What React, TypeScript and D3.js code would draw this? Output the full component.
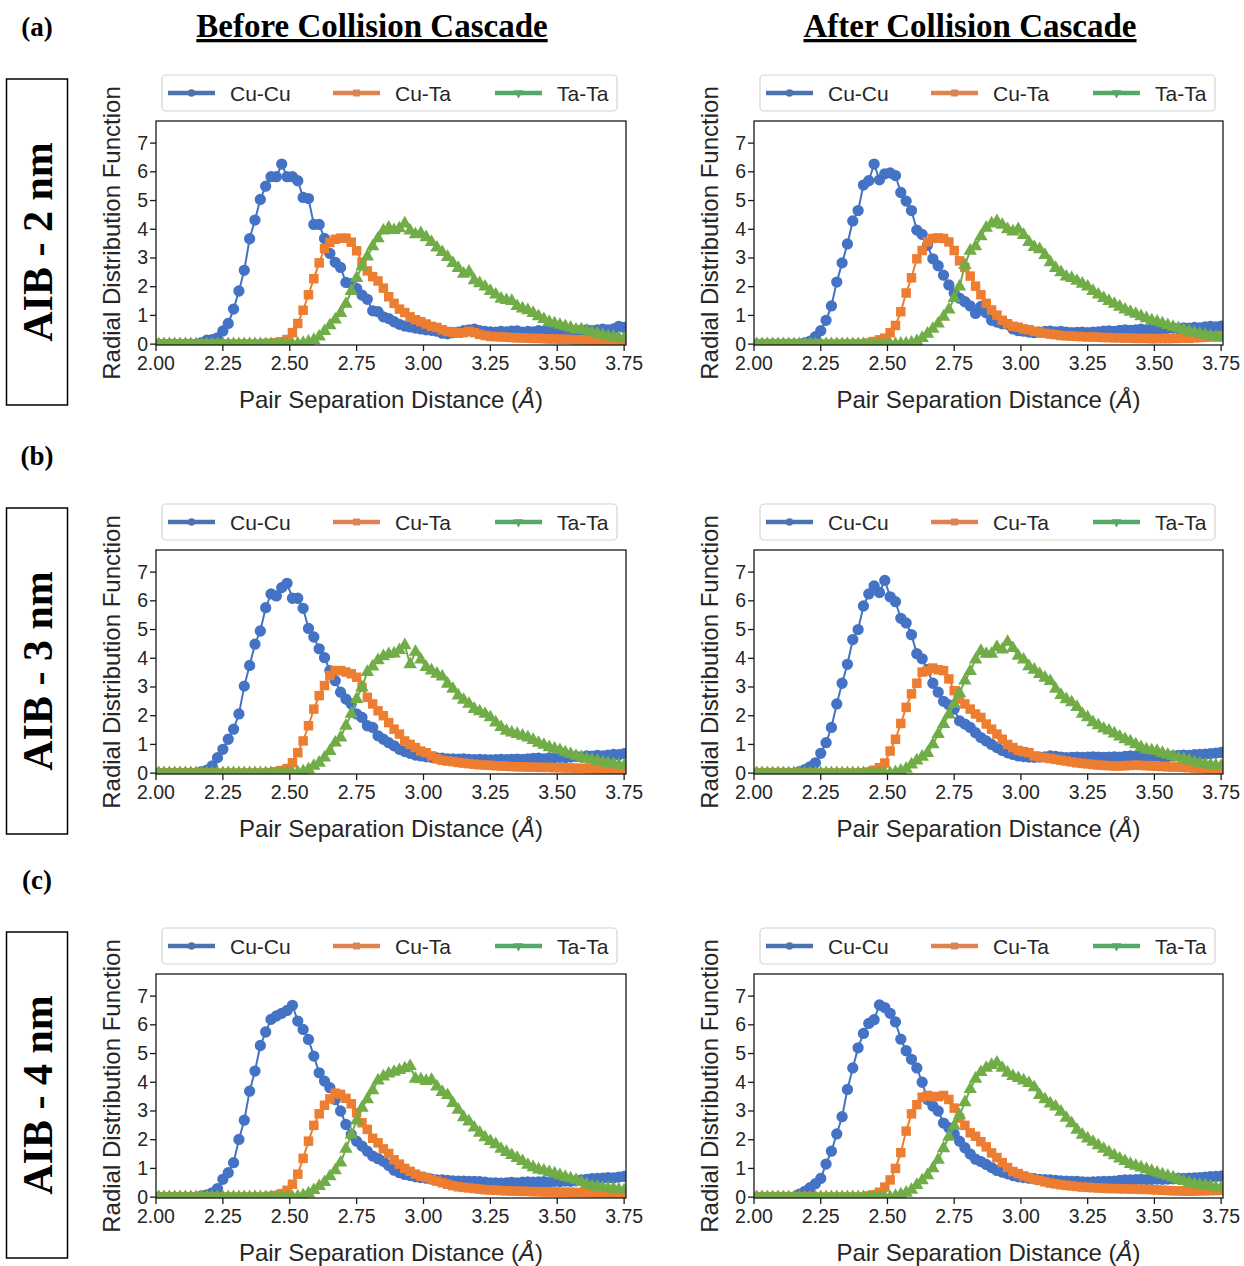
import React from 'react';
import * as d3 from 'd3';

// ---------------- DATA ----------------
// RDF bins: r = 2.01, 2.03, ..., 3.75 Å (88 values per series, 5 per row: 2.0x, 2.1x, ...)
const R_START = 2.01;
const R_STEP = 0.02;

const SERIES_NAMES = ['Cu-Cu', 'Cu-Ta', 'Ta-Ta'];
const X_TICKS = [2.0, 2.25, 2.5, 2.75, 3.0, 3.25, 3.5, 3.75];
const Y_TICKS = [0, 1, 2, 3, 4, 5, 6, 7];
const ROW_LABELS = ['(a)', '(b)', '(c)'];
const SIZE_LABELS = ['AIB - 2 nm', 'AIB - 3 nm', 'AIB - 4 nm'];
const COLUMN_TITLES = ['Before Collision Cascade', 'After Collision Cascade'];

// ---- 2 nm, before ----
const cuCu2Before = [
  0, 0, 0, 0, 0,
  0, 0, 0, 0.05, 0.14,
  0.16, 0.22, 0.46, 0.72, 1.22,
  1.85, 2.57, 3.67, 4.32, 5.04,
  5.5, 5.83, 5.83, 6.27, 5.83,
  5.83, 5.69, 5.11, 5.07, 4.17,
  4.17, 3.68, 3.16, 2.85, 2.67,
  2.15, 2.11, 1.94, 1.71, 1.56,
  1.16, 1.13, 0.95, 0.89, 0.78,
  0.69, 0.63, 0.6, 0.56, 0.53,
  0.5, 0.48, 0.45, 0.38, 0.36,
  0.4, 0.42, 0.47, 0.5, 0.52,
  0.47, 0.44, 0.43, 0.42, 0.44,
  0.43, 0.45, 0.46, 0.42, 0.44,
  0.43, 0.47, 0.45, 0.44, 0.46,
  0.48, 0.47, 0.45, 0.46, 0.49,
  0.5, 0.47, 0.5, 0.52, 0.5,
  0.53, 0.62, 0.58,
];
const cuTa2Before = [
  0, 0, 0, 0, 0,
  0, 0, 0, 0, 0,
  0, 0, 0, 0, 0,
  0, 0, 0, 0, 0,
  0.02, 0.03, 0.05, 0.08, 0.16,
  0.4, 0.72, 1.18, 1.72, 2.28,
  2.83, 3.33, 3.54, 3.65, 3.69,
  3.69, 3.55, 3.25, 2.85, 2.55,
  2.35, 2.2, 1.95, 1.65, 1.42,
  1.22, 1.1, 0.95, 0.85, 0.78,
  0.7, 0.62, 0.58, 0.5, 0.44,
  0.41, 0.38, 0.4, 0.45, 0.4,
  0.34, 0.3, 0.27, 0.26, 0.25,
  0.24, 0.23, 0.22, 0.22, 0.21,
  0.2, 0.2, 0.19, 0.18, 0.18,
  0.17, 0.17, 0.16, 0.15, 0.15,
  0.14, 0.13, 0.13, 0.12, 0.1,
  0.1, 0.09, 0.08,
];
const taTa2Before = [
  0, 0, 0, 0, 0,
  0, 0, 0, 0, 0,
  0, 0, 0, 0, 0,
  0, 0, 0, 0, 0,
  0, 0, 0, 0, 0,
  0, 0.01, 0.04, 0.08, 0.14,
  0.26, 0.45, 0.65, 0.85, 1.08,
  1.4, 1.85, 2.3, 2.7, 3.05,
  3.4, 3.68, 3.95, 4.05, 3.97,
  4.03, 4.2, 3.95, 3.82, 3.86,
  3.72, 3.55, 3.36, 3.2, 3.03,
  2.82, 2.65, 2.45, 2.52, 2.22,
  2.12, 2.0, 1.85, 1.72, 1.58,
  1.53, 1.5, 1.32, 1.24, 1.18,
  1.08, 0.97, 0.87, 0.77, 0.72,
  0.67, 0.62, 0.57, 0.5, 0.51,
  0.47, 0.41, 0.37, 0.32, 0.27,
  0.25, 0.22, 0.2,
];

// ---- 2 nm, after ----
const cuCu2After = [
  0, 0, 0, 0, 0,
  0, 0, 0, 0.01, 0.04,
  0.1, 0.26, 0.47, 0.83, 1.33,
  2.16, 2.83, 3.49, 4.29, 4.65,
  5.54, 5.69, 6.27, 5.72, 5.93,
  5.96, 5.87, 5.28, 4.98, 4.65,
  3.97, 3.82, 3.44, 2.97, 2.73,
  2.4, 2.06, 1.78, 1.6, 1.48,
  1.33, 1.07, 1.31, 1.09, 0.83,
  0.77, 0.71, 0.69, 0.53, 0.47,
  0.45, 0.42, 0.4, 0.42, 0.44,
  0.45, 0.43, 0.44, 0.42, 0.4,
  0.41, 0.42, 0.4, 0.42, 0.43,
  0.45, 0.46, 0.44, 0.48, 0.5,
  0.48, 0.5, 0.52, 0.5, 0.53,
  0.54, 0.52, 0.55, 0.56, 0.54,
  0.57, 0.56, 0.58, 0.57, 0.6,
  0.62, 0.6, 0.63,
];
const cuTa2After = [
  0, 0, 0, 0, 0,
  0, 0, 0, 0, 0,
  0, 0, 0, 0, 0,
  0, 0, 0, 0, 0,
  0.01, 0.04, 0.09, 0.15, 0.21,
  0.4, 0.65, 1.13, 1.78, 2.31,
  2.97, 3.26, 3.56, 3.68, 3.7,
  3.68, 3.56, 3.26, 2.9, 2.67,
  2.37, 2.02, 1.72, 1.42, 1.19,
  1.01, 0.83, 0.71, 0.62, 0.59,
  0.53, 0.5, 0.45, 0.42, 0.38,
  0.35, 0.33, 0.3, 0.29, 0.28,
  0.27, 0.26, 0.25, 0.25, 0.24,
  0.23, 0.23, 0.22, 0.22, 0.21,
  0.21, 0.2, 0.2, 0.2, 0.19,
  0.19, 0.2, 0.19, 0.2, 0.2,
  0.21, 0.2, 0.22, 0.23, 0.24,
  0.25, 0.26, 0.27,
];
const taTa2After = [
  0, 0, 0, 0, 0,
  0, 0, 0, 0, 0,
  0, 0, 0, 0, 0,
  0, 0, 0, 0, 0,
  0, 0, 0, 0, 0,
  0, 0, 0.01, 0.02, 0.05,
  0.1, 0.21, 0.36, 0.53, 0.71,
  0.95, 1.2, 1.6, 2.0, 2.75,
  3.25, 3.4, 3.75, 4.05, 4.2,
  4.28, 4.15, 4.0, 3.92, 4.0,
  3.8, 3.55, 3.38, 3.3, 3.1,
  2.85, 2.65, 2.5, 2.35, 2.3,
  2.2, 2.1, 2.0, 1.85, 1.72,
  1.6, 1.5, 1.4, 1.3, 1.2,
  1.12, 1.05, 0.97, 0.9, 0.82,
  0.78, 0.72, 0.66, 0.6, 0.55,
  0.5, 0.45, 0.4, 0.36, 0.32,
  0.28, 0.25, 0.22,
];

// ---- 3 nm, before ----
const cuCu3Before = [
  0, 0, 0, 0, 0,
  0, 0, 0, 0.05, 0.1,
  0.25, 0.54, 0.83, 1.18, 1.53,
  2.06, 3.03, 3.75, 4.49, 4.95,
  5.76, 6.24, 6.17, 6.46, 6.61,
  6.09, 6.09, 5.74, 5.04, 4.74,
  4.33, 4.02, 3.57, 3.22, 2.82,
  2.58, 2.41, 2.06, 1.94, 1.65,
  1.59, 1.3, 1.18, 1.06, 0.95,
  0.83, 0.75, 0.69, 0.63, 0.6,
  0.57, 0.55, 0.53, 0.52, 0.5,
  0.5, 0.49, 0.5, 0.48, 0.47,
  0.48, 0.47, 0.46, 0.47, 0.48,
  0.47, 0.48, 0.49, 0.48, 0.5,
  0.51, 0.52, 0.5, 0.53, 0.54,
  0.55, 0.54, 0.56, 0.58, 0.57,
  0.6, 0.59, 0.62, 0.6, 0.63,
  0.65, 0.64, 0.68,
];
const cuTa3Before = [
  0, 0, 0, 0, 0,
  0, 0, 0, 0, 0,
  0, 0, 0, 0, 0,
  0, 0, 0, 0, 0,
  0.01, 0.02, 0.05, 0.09, 0.16,
  0.36, 0.71, 1.12, 1.65, 2.23,
  2.7, 3.05, 3.4, 3.57, 3.57,
  3.52, 3.46, 3.34, 2.99, 2.64,
  2.41, 2.17, 2.0, 1.76, 1.53,
  1.36, 1.12, 1.0, 0.89, 0.77,
  0.71, 0.6, 0.5, 0.45, 0.42,
  0.4, 0.37, 0.35, 0.33, 0.31,
  0.29, 0.28, 0.27, 0.26, 0.25,
  0.24, 0.23, 0.22, 0.22, 0.21,
  0.21, 0.2, 0.2, 0.2, 0.19,
  0.19, 0.18, 0.18, 0.17, 0.17,
  0.16, 0.16, 0.15, 0.15, 0.14,
  0.14, 0.13, 0.13,
];
const taTa3Before = [
  0, 0, 0, 0, 0,
  0, 0, 0, 0, 0,
  0, 0, 0, 0, 0,
  0, 0, 0, 0, 0,
  0, 0, 0, 0, 0,
  0, 0.02, 0.06, 0.13, 0.25,
  0.36, 0.54, 0.77, 1.06, 1.24,
  1.65, 2.06, 2.58, 2.99, 3.52,
  3.71, 3.93, 4.07, 4.14, 4.16,
  4.28, 4.45, 3.79, 4.22, 3.95,
  3.69, 3.57, 3.46, 3.36, 3.11,
  2.93, 2.7, 2.55, 2.41, 2.23,
  2.15, 2.06, 1.94, 1.76, 1.6,
  1.47, 1.41, 1.36, 1.3, 1.24,
  1.15, 1.05, 0.98, 0.9, 0.85,
  0.8, 0.72, 0.66, 0.6, 0.55,
  0.5, 0.46, 0.42, 0.38, 0.35,
  0.32, 0.29, 0.26,
];

// ---- 3 nm, after ----
const cuCu3After = [
  0, 0, 0, 0, 0,
  0, 0, 0, 0.05, 0.12,
  0.22, 0.36, 0.69, 1.06, 1.59,
  2.41, 3.13, 3.79, 4.65, 5.0,
  5.82, 6.24, 6.52, 6.29, 6.71,
  6.14, 5.97, 5.39, 5.23, 4.82,
  4.16, 3.98, 3.6, 3.13, 2.82,
  2.5, 2.38, 2.23, 1.82, 1.71,
  1.59, 1.41, 1.24, 1.12, 1.0,
  0.89, 0.79, 0.71, 0.65, 0.6,
  0.58, 0.56, 0.55, 0.56, 0.57,
  0.6, 0.58, 0.56, 0.54, 0.55,
  0.56, 0.55, 0.56, 0.57, 0.56,
  0.55, 0.56, 0.57, 0.56, 0.58,
  0.6, 0.59, 0.6, 0.58, 0.6,
  0.59, 0.57, 0.58, 0.6, 0.62,
  0.63, 0.62, 0.64, 0.65, 0.66,
  0.68, 0.7, 0.72,
];
const cuTa3After = [
  0, 0, 0, 0, 0,
  0, 0, 0, 0, 0,
  0, 0, 0, 0, 0,
  0, 0, 0, 0, 0,
  0.01, 0.04, 0.1, 0.19, 0.35,
  0.77, 1.18, 1.73, 2.29, 2.76,
  3.13, 3.52, 3.57, 3.66, 3.6,
  3.57, 3.28, 2.87, 2.58, 2.41,
  2.23, 2.06, 1.94, 1.71, 1.53,
  1.36, 1.18, 1.0, 0.89, 0.79,
  0.75, 0.71, 0.6, 0.56, 0.54,
  0.51, 0.48, 0.45, 0.42, 0.39,
  0.36, 0.34, 0.32, 0.3, 0.28,
  0.27, 0.26, 0.25, 0.25, 0.26,
  0.27, 0.28, 0.27, 0.26, 0.25,
  0.24, 0.23, 0.22, 0.21, 0.21,
  0.2, 0.19, 0.18, 0.17, 0.16,
  0.15, 0.15, 0.14,
];
const taTa3After = [
  0, 0, 0, 0, 0,
  0, 0, 0, 0, 0,
  0, 0, 0, 0, 0,
  0, 0, 0, 0, 0,
  0, 0, 0, 0, 0,
  0, 0.03, 0.08, 0.15, 0.3,
  0.44, 0.57, 0.7, 1.0, 1.36,
  1.71, 2.04, 2.41, 2.78, 3.22,
  3.55, 3.95, 4.25, 4.15, 4.15,
  4.39, 4.3, 4.57, 4.35, 4.08,
  3.95, 3.72, 3.6, 3.45, 3.32,
  3.2, 2.93, 2.72, 2.57, 2.46,
  2.3, 2.06, 1.94, 1.77, 1.66,
  1.55, 1.48, 1.38, 1.27, 1.18,
  1.1, 1.0, 0.9, 0.82, 0.79,
  0.77, 0.7, 0.64, 0.58, 0.54,
  0.49, 0.44, 0.38, 0.34, 0.31,
  0.29, 0.27, 0.25,
];

// ---- 4 nm, before ----
const cuCu4Before = [
  0, 0, 0, 0, 0,
  0, 0, 0, 0.04, 0.08,
  0.15, 0.3, 0.62, 0.85, 1.2,
  2.01, 2.68, 3.69, 4.39, 5.28,
  5.75, 6.19, 6.31, 6.4, 6.5,
  6.68, 6.13, 5.84, 5.49, 4.91,
  4.33, 4.04, 3.81, 3.4, 3.0,
  2.53, 2.18, 1.95, 1.78, 1.6,
  1.43, 1.34, 1.25, 1.1, 0.94,
  0.85, 0.79, 0.75, 0.71, 0.68,
  0.66, 0.63, 0.6, 0.6, 0.58,
  0.57, 0.56, 0.56, 0.55, 0.55,
  0.54, 0.52, 0.5, 0.5, 0.49,
  0.5, 0.51, 0.5, 0.52, 0.53,
  0.52, 0.53, 0.54, 0.53, 0.55,
  0.54, 0.56, 0.55, 0.57, 0.6,
  0.62, 0.64, 0.65, 0.66, 0.68,
  0.67, 0.7, 0.72,
];
const cuTa4Before = [
  0, 0, 0, 0, 0,
  0, 0, 0, 0, 0,
  0, 0, 0, 0, 0,
  0, 0, 0, 0, 0,
  0.01, 0.03, 0.06, 0.12, 0.24,
  0.45, 0.8, 1.35, 1.95, 2.5,
  2.9, 3.2, 3.42, 3.62, 3.58,
  3.44, 3.25, 2.94, 2.59, 2.36,
  2.05, 1.89, 1.68, 1.52, 1.3,
  1.15, 1.0, 0.9, 0.8, 0.73,
  0.68, 0.62, 0.56, 0.5, 0.45,
  0.4, 0.36, 0.34, 0.32, 0.3,
  0.28, 0.26, 0.25, 0.24, 0.23,
  0.22, 0.21, 0.21, 0.2, 0.2,
  0.19, 0.19, 0.18, 0.18, 0.18,
  0.17, 0.17, 0.17, 0.16, 0.16,
  0.16, 0.15, 0.15, 0.15, 0.15,
  0.14, 0.14, 0.14,
];
const taTa4Before = [
  0, 0, 0, 0, 0,
  0, 0, 0, 0, 0,
  0, 0, 0, 0, 0,
  0, 0, 0, 0, 0,
  0, 0, 0, 0, 0,
  0, 0.02, 0.06, 0.13, 0.24,
  0.38, 0.52, 0.72, 0.93, 1.2,
  1.68, 2.18, 2.66, 3.11, 3.4,
  3.72, 4.06, 4.2, 4.3, 4.36,
  4.42, 4.48, 4.56, 4.12, 4.1,
  4.04, 4.08, 3.85, 3.66, 3.55,
  3.27, 3.04, 2.78, 2.63, 2.42,
  2.24, 2.08, 1.95, 1.84, 1.68,
  1.57, 1.46, 1.36, 1.25, 1.12,
  1.04, 0.96, 0.92, 0.87, 0.82,
  0.76, 0.7, 0.65, 0.6, 0.52,
  0.45, 0.38, 0.36, 0.34, 0.31,
  0.29, 0.27, 0.24,
];

// ---- 4 nm, after ----
const cuCu4After = [
  0, 0, 0, 0, 0,
  0, 0, 0, 0.1, 0.2,
  0.33, 0.47, 0.65, 1.15, 1.6,
  2.2, 2.8, 3.75, 4.5, 5.2,
  5.7, 6.05, 6.18, 6.69, 6.6,
  6.4, 6.1, 5.5, 5.1, 4.8,
  4.5, 4.0, 3.4, 3.17, 3.0,
  2.58, 2.42, 2.2, 1.95, 1.72,
  1.5, 1.32, 1.24, 1.14, 1.03,
  0.93, 0.87, 0.81, 0.75, 0.71,
  0.68, 0.66, 0.64, 0.62, 0.61,
  0.6, 0.58, 0.57, 0.56, 0.55,
  0.55, 0.53, 0.52, 0.53, 0.54,
  0.55, 0.55, 0.56, 0.58, 0.6,
  0.6, 0.61, 0.62, 0.61, 0.62,
  0.63, 0.62, 0.63, 0.64, 0.65,
  0.65, 0.66, 0.67, 0.68, 0.7,
  0.71, 0.72, 0.73,
];
const cuTa4After = [
  0, 0, 0, 0, 0,
  0, 0, 0, 0, 0,
  0, 0, 0, 0, 0,
  0, 0, 0, 0, 0,
  0, 0.04, 0.08, 0.17, 0.35,
  0.6, 1.0, 1.55, 2.3, 2.9,
  3.22, 3.48, 3.54, 3.5, 3.5,
  3.54, 3.4, 3.1, 2.75, 2.5,
  2.24, 2.12, 1.93, 1.75, 1.54,
  1.38, 1.2, 1.03, 0.89, 0.82,
  0.74, 0.68, 0.62, 0.58, 0.53,
  0.49, 0.46, 0.43, 0.41, 0.39,
  0.37, 0.35, 0.34, 0.33, 0.32,
  0.31, 0.3, 0.3, 0.29, 0.29,
  0.28, 0.28, 0.27, 0.27, 0.26,
  0.25, 0.24, 0.23, 0.22, 0.22,
  0.21, 0.21, 0.21, 0.22, 0.22,
  0.23, 0.23, 0.24,
];
const taTa4After = [
  0, 0, 0, 0, 0,
  0, 0, 0, 0, 0,
  0, 0, 0, 0, 0,
  0, 0, 0, 0, 0,
  0, 0, 0, 0, 0,
  0, 0.04, 0.09, 0.15, 0.25,
  0.42, 0.58, 0.76, 1.0, 1.3,
  1.7, 2.1, 2.48, 2.85, 3.3,
  3.76, 4.12, 4.35, 4.5, 4.6,
  4.68, 4.5, 4.33, 4.21, 4.14,
  4.06, 3.97, 3.82, 3.55, 3.4,
  3.26, 3.15, 2.97, 2.76, 2.57,
  2.34, 2.17, 2.04, 1.92, 1.8,
  1.68, 1.56, 1.45, 1.34, 1.25,
  1.15, 1.09, 1.03, 0.97, 0.91,
  0.85, 0.79, 0.74, 0.68, 0.62,
  0.56, 0.5, 0.45, 0.43, 0.41,
  0.39, 0.34, 0.32,
];

const PANELS = [
  { row: 0, col: 0, series: [cuCu2Before, cuTa2Before, taTa2Before] },
  { row: 0, col: 1, series: [cuCu2After, cuTa2After, taTa2After] },
  { row: 1, col: 0, series: [cuCu3Before, cuTa3Before, taTa3Before] },
  { row: 1, col: 1, series: [cuCu3After, cuTa3After, taTa3After] },
  { row: 2, col: 0, series: [cuCu4Before, cuTa4Before, taTa4Before] },
  { row: 2, col: 1, series: [cuCu4After, cuTa4After, taTa4After] },
];

// ---------------- STYLE / LAYOUT ----------------
const W = 1244;
const H = 1266;
const ROW_TOP = [121, 550, 974];
const PLOT_H = 224;
const COL_LEFT = [156, 754];
const COL_RIGHT = [626, 1223];
const X_DOMAIN = [2.0, 3.757];
const Y_DOMAIN = [-0.03, 7.77];

const LINE_COLORS = ['#4472C4', '#ED7D31', '#70AD47'];
const LEGEND_COLORS = ['#4C72B0', '#DD8452', '#55A868'];
const SANS = "'Liberation Sans', Arial, Helvetica, sans-serif";
const SERIF = "'Liberation Serif', 'Times New Roman', Times, serif";
const TEXT_COLOR = '#262626';

const markerTypes = [d3.symbolCircle, d3.symbolSquare, d3.symbolTriangle];
const markerSizes = [100, 90, 78];
const legendMarkerSizes = [44, 48, 40];

function Panel({ row, col, series }: { row: number; col: number; series: number[][] }) {
  const top = ROW_TOP[row];
  const left = COL_LEFT[col];
  const right = COL_RIGHT[col];
  const bottom = top + PLOT_H;
  const x = d3.scaleLinear().domain(X_DOMAIN).range([left, right]);
  const y = d3.scaleLinear().domain(Y_DOMAIN).range([bottom, top]);
  const clipId = `clip-${row}-${col}`;

  const line = d3
    .line<number>()
    .x((_, i) => x(R_START + i * R_STEP))
    .y((d) => y(d));

  const legendX = left + 6;
  const legendY = top - 46;
  const legendOffsets = [0, 165, 327];

  return (
    <g>
      <defs>
        <clipPath id={clipId}>
          <rect x={left} y={top} width={right - left} height={PLOT_H} />
        </clipPath>
      </defs>

      {/* legend */}
      <rect
        x={legendX}
        y={legendY}
        width={455}
        height={36}
        rx={4}
        ry={4}
        fill="#fff"
        stroke="#d4d4d4"
        strokeWidth={1.2}
      />
      {SERIES_NAMES.map((name, k) => {
        const lx = legendX + 6 + legendOffsets[k];
        const ly = legendY + 18;
        const sym = d3.symbol().type(markerTypes[k]).size(legendMarkerSizes[k])();
        return (
          <g key={name}>
            <line x1={lx} x2={lx + 47} y1={ly} y2={ly} stroke={LEGEND_COLORS[k]} strokeWidth={4.5} />
            <path
              d={sym || ''}
              transform={`translate(${lx + 23.5},${ly})${k === 2 ? ' rotate(180)' : ''}`}
              fill={LEGEND_COLORS[k]}
            />
            <text x={lx + 62} y={ly + 7.5} fontFamily={SANS} fontSize={21} fill={TEXT_COLOR}>
              {name}
            </text>
          </g>
        );
      })}

      {/* data */}
      <g clipPath={`url(#${clipId})`}>
        {series.map((vals, k) => (
          <g key={k}>
            <path d={line(vals) || ''} fill="none" stroke={LINE_COLORS[k]} strokeWidth={2} />
            {vals.map((v, i) => {
              const sym = d3.symbol().type(markerTypes[k]).size(markerSizes[k])();
              return (
                <path
                  key={i}
                  d={sym || ''}
                  transform={`translate(${x(R_START + i * R_STEP)},${y(v)})`}
                  fill={LINE_COLORS[k]}
                />
              );
            })}
          </g>
        ))}
      </g>

      {/* frame */}
      <rect x={left} y={top} width={right - left} height={PLOT_H} fill="none" stroke="#1a1a1a" strokeWidth={1.3} />

      {/* x axis */}
      {X_TICKS.map((t) => (
        <g key={`x${t}`}>
          <line x1={x(t)} x2={x(t)} y1={bottom} y2={bottom + 6} stroke="#1a1a1a" strokeWidth={1.3} />
          <text
            x={x(t)}
            y={bottom + 25}
            textAnchor="middle"
            fontFamily={SANS}
            fontSize={19.5}
            fill={TEXT_COLOR}
          >
            {t.toFixed(2)}
          </text>
        </g>
      ))}
      {/* y axis */}
      {Y_TICKS.map((t) => (
        <g key={`y${t}`}>
          <line x1={left - 6} x2={left} y1={y(t)} y2={y(t)} stroke="#1a1a1a" strokeWidth={1.3} />
          <text
            x={left - 8}
            y={y(t) + 6.5}
            textAnchor="end"
            fontFamily={SANS}
            fontSize={19.5}
            fill={TEXT_COLOR}
          >
            {t}
          </text>
        </g>
      ))}

      {/* axis labels */}
      <text
        x={(left + right) / 2}
        y={bottom + 63}
        textAnchor="middle"
        fontFamily={SANS}
        fontSize={24}
        fill={TEXT_COLOR}
      >
        Pair Separation Distance (<tspan fontStyle="italic">Å</tspan>)
      </text>
      <text
        transform={`translate(${left - 36},${top + 112}) rotate(-90)`}
        textAnchor="middle"
        fontFamily={SANS}
        fontSize={24}
        fill={TEXT_COLOR}
      >
        Radial Distribution Function
      </text>
    </g>
  );
}

export default function App() {
  return (
    <svg
      width={W}
      height={H}
      viewBox={`0 0 ${W} ${H}`}
      style={{ position: 'absolute', left: 0, top: 0, background: '#fff' }}
    >
      <rect x={0} y={0} width={W} height={H} fill="#fff" />

      {/* column titles */}
      {COLUMN_TITLES.map((t, c) => (
        <text
          key={t}
          x={c === 0 ? 372 : 970}
          y={37}
          textAnchor="middle"
          fontFamily={SERIF}
          fontWeight="bold"
          fontSize={33}
          textDecoration="underline"
          fill="#000"
        >
          {t}
        </text>
      ))}

      {/* row labels and size boxes */}
      {ROW_TOP.map((top, r) => (
        <g key={r}>
          <text x={37} y={top - 85} textAnchor="middle" fontFamily={SERIF} fontWeight="bold" fontSize={27} fill="#000">
            {ROW_LABELS[r]}
          </text>
          <rect x={6.5} y={top - 42} width={61} height={326} fill="#fff" stroke="#000" strokeWidth={1.5} />
          <text
            transform={`translate(${52},${top + 121}) rotate(-90)`}
            textAnchor="middle"
            fontFamily={SERIF}
            fontWeight="bold"
            fontSize={42}
            fill="#000"
          >
            {SIZE_LABELS[r]}
          </text>
        </g>
      ))}

      {PANELS.map((p) => (
        <Panel key={`${p.row}-${p.col}`} row={p.row} col={p.col} series={p.series} />
      ))}
    </svg>
  );
}
